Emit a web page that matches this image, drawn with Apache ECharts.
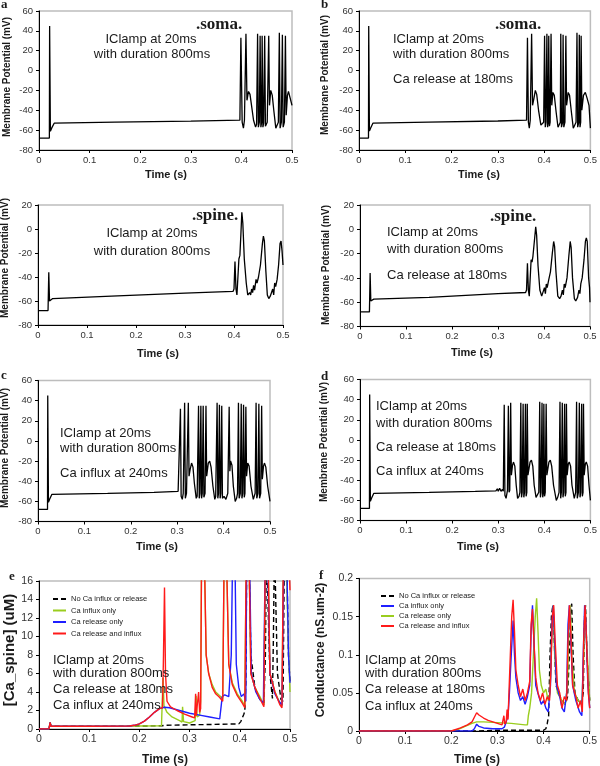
<!DOCTYPE html>
<html><head><meta charset="utf-8">
<script src="https://cdn.jsdelivr.net/npm/echarts@6/dist/echarts.min.js"></script>
<style>html,body{margin:0;padding:0;background:#fff}#c{width:600px;height:766px}</style>
</head><body><div id="c"></div>
<script>
// ---------- DATA (time in s, value) ----------
const somaA = [[0,-68],[0.0205,-68],[0.021,45],[0.0225,-61],[0.025,-58],[0.027,-56],[0.03,-53],[0.15,-52],[0.3,-51],[0.397,-50],
[0.399,33],[0.4015,-52],[0.404,-58],[0.406,-50],[0.409,37],[0.411,-30],[0.414,-21],[0.417,-24],[0.42,-35],[0.424,-50],[0.428,-57],[0.43,-54],
[0.432,37],[0.4335,-57],[0.4355,-52],[0.437,35],[0.4385,-57],[0.44,-52],[0.441,35],[0.4425,-57],[0.444,-53],[0.446,35],[0.4475,-56],[0.451,-52],[0.454,35],[0.4555,-35],[0.458,-20],[0.461,-25],[0.464,-40],[0.468,-58],[0.471,-57],[0.473,-52],
[0.475,38],[0.4765,-58],[0.479,-52],[0.481,36],[0.4825,-57],[0.485,-52],[0.487,35],[0.4885,-45],[0.491,-25],[0.493,-21],[0.496,-27],[0.5,-35]];

const somaB = [[0,-68],[0.0205,-68],[0.021,45],[0.0225,-61],[0.025,-58],[0.027,-56],[0.03,-53],[0.15,-52],[0.3,-50.8],[0.362,-50],
[0.364,33],[0.366,-52],[0.368,-58],[0.37,-50],[0.373,37],[0.375,-35],[0.378,-28],[0.381,-20],[0.384,-24],[0.388,-40],[0.393,-55],[0.396,-57],[0.399,-52],
[0.401,35],[0.4025,-57],[0.404,-52],[0.406,37],[0.4075,-57],[0.409,-52],[0.41,35],[0.4115,-56],[0.413,-52],[0.415,37],[0.4165,-35],[0.419,-22],[0.422,-25],[0.426,-42],[0.43,-57],[0.433,-56],[0.435,-52],
[0.436,37],[0.4375,-57],[0.44,-52],[0.441,36],[0.4425,-57],[0.445,-52],[0.447,35],[0.4485,-35],[0.452,-22],[0.455,-25],[0.459,-42],[0.463,-58],[0.467,-57],[0.469,-52],
[0.471,38],[0.4725,-57],[0.475,-52],[0.476,36],[0.4775,-57],[0.479,-52],[0.48,35],[0.4815,-40],[0.485,-25],[0.489,-22],[0.493,-28],[0.497,-35],[0.5,-58]];

const spineA = [[0,-68],[0.0205,-68],[0.022,-36],[0.0235,-60],[0.025,-59],[0.03,-58],[0.15,-56],[0.3,-53.5],[0.398,-52],[0.4,-50],[0.402,-27],[0.404,-50],[0.406,-55],[0.408,-40],[0.41,-25],[0.412,-22],[0.414,-5],[0.416,14],[0.418,5],[0.421,-25],[0.425,-45],[0.428,-55],[0.432,-53],[0.434,-55],[0.436,-50],[0.438,-53],[0.44,-47],[0.442,-51],[0.445,-42],[0.447,-45],[0.45,-40],[0.454,-30],[0.458,-12],[0.46,-6],[0.462,-10],[0.465,-35],[0.468,-55],[0.471,-58],[0.474,-56],[0.477,-55],[0.479,-50],[0.481,-55],[0.483,-45],[0.485,-48],[0.488,-42],[0.491,-30],[0.494,-12],[0.496,-10],[0.498,-18],[0.5,-30]];

const spineB = [[0,-68],[0.0205,-68],[0.022,-36],[0.0235,-59],[0.025,-58],[0.03,-57.5],[0.15,-56],[0.3,-53],[0.36,-52],[0.362,-50],[0.364,-28],[0.366,-50],[0.368,-55],[0.37,-40],[0.372,-25],[0.374,-27],[0.376,-22],[0.379,-10],[0.382,2],[0.384,-5],[0.387,-30],[0.391,-50],[0.395,-55],[0.399,-54],[0.401,-48],[0.403,-53],[0.405,-45],[0.407,-48],[0.41,-42],[0.414,-35],[0.418,-20],[0.421,-10],[0.423,-14],[0.426,-35],[0.43,-55],[0.434,-57],[0.437,-55],[0.44,-50],[0.442,-54],[0.444,-45],[0.446,-48],[0.45,-40],[0.454,-22],[0.457,-10],[0.459,-15],[0.462,-40],[0.466,-57],[0.469,-59],[0.473,-56],[0.476,-50],[0.478,-53],[0.48,-45],[0.483,-40],[0.487,-25],[0.49,-10],[0.492,-7],[0.494,-10],[0.497,-40],[0.499,-48],[0.5,-60]];

const somaC = [[0,-68],[0.0205,-68],[0.021,45],[0.0225,-61],[0.025,-58],[0.027,-56],[0.03,-53],[0.15,-52],[0.25,-51],[0.302,-50],
[0.307,32],[0.3085,-55],[0.311,-58],[0.313,-52],[0.316,38],[0.3175,-57],[0.32,-52],[0.324,38],[0.3255,-35],[0.328,-28],[0.331,-22],[0.334,-26],[0.337,-42],[0.341,-57],[0.343,-55],
[0.346,35],[0.3475,-57],[0.349,-52],[0.351,35],[0.3525,-57],[0.354,-52],[0.356,35],[0.3575,-56],[0.36,-52],[0.362,35],[0.3635,-35],[0.367,-22],[0.37,-20],[0.373,-26],[0.377,-45],[0.381,-58],[0.383,-55],
[0.386,38],[0.3875,-57],[0.389,-52],[0.391,36],[0.3925,-57],[0.394,-52],[0.396,35],[0.3975,-57],[0.401,-55],[0.405,-58],[0.409,-52],[0.412,34],[0.4135,-30],[0.415,-20],[0.418,-24],[0.421,-45],[0.425,-60],[0.428,-57],[0.43,-52],
[0.432,38],[0.4335,-57],[0.436,-52],[0.438,37],[0.4395,-57],[0.441,-52],[0.443,36],[0.4445,-56],[0.446,-52],[0.448,34],[0.4495,-35],[0.452,-22],[0.455,-25],[0.459,-45],[0.464,-58],[0.467,-57],[0.468,-52],
[0.47,38],[0.4715,-57],[0.474,-52],[0.476,37],[0.4775,-57],[0.48,-52],[0.482,35],[0.4835,-38],[0.486,-25],[0.488,-22],[0.491,-26],[0.495,-45],[0.5,-60]];

const somaD = [[0,-68],[0.0205,-68],[0.021,45],[0.0225,-61],[0.025,-58],[0.027,-56],[0.03,-53],[0.15,-52],[0.25,-51],[0.295,-50.5],[0.298,-48.5],[0.3,-51],[0.303,-48],[0.306,-51],[0.309,-49],[0.311,-51],
[0.313,35],[0.3145,-55],[0.317,-58],[0.32,-50],[0.322,34],[0.3235,-52],[0.325,-50],[0.327,37],[0.3285,-35],[0.331,-25],[0.333,-22],[0.336,-26],[0.339,-45],[0.342,-58],[0.345,-56],[0.347,-52],
[0.349,37],[0.3505,-57],[0.352,-52],[0.354,36],[0.3555,-57],[0.357,-52],[0.359,36],[0.3605,-56],[0.362,-52],[0.363,36],[0.3645,-35],[0.369,-22],[0.372,-20],[0.375,-26],[0.378,-45],[0.382,-57],[0.385,-56],[0.388,-52],
[0.39,38],[0.3915,-57],[0.393,-52],[0.395,37],[0.3965,-57],[0.398,-52],[0.399,36],[0.4005,-56],[0.402,-52],[0.404,36],[0.4055,-35],[0.41,-22],[0.413,-20],[0.416,-26],[0.42,-45],[0.426,-60],[0.429,-57],[0.432,-52],
[0.434,38],[0.4355,-58],[0.437,-52],[0.439,37],[0.4405,-57],[0.442,-52],[0.444,36],[0.4455,-56],[0.447,-52],[0.448,36],[0.4495,-35],[0.452,-24],[0.454,-22],[0.457,-26],[0.46,-45],[0.465,-58],[0.467,-57],[0.468,-52],
[0.47,38],[0.4715,-58],[0.474,-52],[0.476,37],[0.4775,-57],[0.479,-52],[0.481,36],[0.4825,-56],[0.484,-52],[0.485,36],[0.4865,-35],[0.489,-24],[0.491,-22],[0.494,-26],[0.497,-45],[0.5,-60]];

// panel e: [Ca_spine] (uM)
const caNone = [[0,0],[0.02,0],[0.022,0.7],[0.024,0.3],[0.1,0.3],[0.2,0.32],[0.245,0.35],[0.25,0.4],[0.3,0.45],[0.35,0.5],[0.398,0.55],[0.402,0.8],[0.405,1.2],[0.408,1.6],[0.41,1.9],[0.412,5],[0.414,20],[0.418,20],[0.422,8],[0.43,4.5],[0.44,3.2],[0.448,2.8],[0.451,8],[0.453,20],[0.456,20],[0.46,6],[0.465,3.3],[0.467,10],[0.469,20],[0.471,20],[0.475,6],[0.482,3.2],[0.486,3],[0.489,20],[0.493,20],[0.497,8],[0.5,5]];
const caInflux = [[0,0],[0.02,0],[0.022,0.7],[0.024,0.3],[0.1,0.3],[0.2,0.32],[0.244,0.35],[0.246,0.4],[0.247,5.5],[0.249,2.5],[0.255,1.8],[0.265,1.3],[0.28,0.9],[0.285,0.75],[0.286,2.4],[0.288,0.8],[0.3,0.65],[0.311,0.9],[0.313,3.6],[0.315,1.3],[0.32,1.5],[0.322,3],[0.324,20],[0.329,20],[0.333,8],[0.338,6],[0.345,4.8],[0.352,4],[0.36,3.6],[0.366,3.3],[0.369,20],[0.373,20],[0.378,7],[0.385,5],[0.395,3.8],[0.405,3],[0.41,2.5],[0.413,20],[0.418,20],[0.422,6],[0.43,4.5],[0.44,3.5],[0.448,2.6],[0.451,20],[0.456,20],[0.46,6],[0.47,4],[0.48,2.8],[0.484,2.5],[0.487,20],[0.492,20],[0.496,10],[0.5,4]];
const caRelease = [[0,0],[0.02,0],[0.022,0.7],[0.024,0.3],[0.1,0.3],[0.18,0.32],[0.19,0.4],[0.2,0.55],[0.21,0.85],[0.22,1.3],[0.23,1.8],[0.24,2.2],[0.25,2.35],[0.26,2.3],[0.28,2.0],[0.3,1.7],[0.32,1.5],[0.34,1.3],[0.36,1.1],[0.363,1.1],[0.365,3.5],[0.37,3.7],[0.378,3.5],[0.383,8],[0.386,20],[0.39,20],[0.393,7],[0.398,4.5],[0.403,3.5],[0.408,3.8],[0.412,3],[0.414,20],[0.419,20],[0.423,6],[0.432,4],[0.44,3.2],[0.447,2.8],[0.451,20],[0.455,20],[0.46,6],[0.47,3.8],[0.478,3],[0.484,2.6],[0.488,20],[0.493,20],[0.497,8],[0.5,5]];
const caBoth = [[0,0],[0.02,0.02],[0.022,0.7],[0.024,0.3],[0.1,0.3],[0.18,0.32],[0.19,0.4],[0.2,0.55],[0.21,0.85],[0.22,1.3],[0.23,1.8],[0.24,2.2],[0.246,2.3],[0.248,8],[0.25,15.3],[0.252,6],[0.255,3],[0.262,2.4],[0.275,2],[0.29,1.6],[0.305,1.3],[0.31,1.2],[0.312,3.8],[0.313,1.4],[0.316,1.5],[0.318,4],[0.32,1.8],[0.322,2.2],[0.324,20],[0.329,20],[0.333,8],[0.338,6],[0.345,4.5],[0.352,3.8],[0.36,3.4],[0.366,3],[0.369,20],[0.373,20],[0.378,7],[0.385,4.8],[0.395,3.6],[0.405,2.8],[0.41,2.3],[0.413,20],[0.418,20],[0.422,6],[0.43,4.5],[0.44,3.3],[0.448,2.4],[0.451,20],[0.456,20],[0.46,6],[0.47,4],[0.48,2.6],[0.484,2.3],[0.487,20],[0.497,20],[0.5,15]];

// panel f: Conductance (nS.um-2)
const gNone = [[0,0],[0.25,0],[0.3,0.001],[0.4,0.001],[0.405,0.003],[0.408,0.01],[0.411,0.02],[0.414,0.1],[0.417,0.15],[0.42,0.165],[0.423,0.12],[0.427,0.06],[0.432,0.05],[0.44,0.04],[0.447,0.035],[0.452,0.045],[0.456,0.1],[0.459,0.16],[0.461,0.167],[0.464,0.1],[0.468,0.05],[0.475,0.04],[0.482,0.035],[0.486,0.05],[0.489,0.15],[0.491,0.165],[0.494,0.1],[0.5,0.04]];
const gInflux = [[0,0],[0.245,0],[0.25,0.003],[0.255,0.009],[0.26,0.006],[0.27,0.004],[0.29,0.003],[0.31,0.003],[0.315,0.005],[0.318,0.01],[0.32,0.008],[0.323,0.02],[0.326,0.05],[0.33,0.1],[0.334,0.145],[0.337,0.1],[0.34,0.07],[0.345,0.05],[0.35,0.04],[0.355,0.045],[0.36,0.035],[0.365,0.045],[0.37,0.06],[0.373,0.13],[0.376,0.165],[0.379,0.12],[0.383,0.06],[0.39,0.045],[0.395,0.035],[0.4,0.04],[0.405,0.03],[0.41,0.025],[0.415,0.06],[0.418,0.14],[0.421,0.165],[0.424,0.12],[0.428,0.06],[0.435,0.045],[0.44,0.03],[0.445,0.025],[0.45,0.05],[0.453,0.14],[0.456,0.165],[0.459,0.12],[0.463,0.06],[0.47,0.04],[0.478,0.025],[0.483,0.02],[0.486,0.1],[0.489,0.165],[0.492,0.14],[0.496,0.06],[0.5,0.03]];
const gRelease = [[0,0],[0.2,0],[0.215,0.002],[0.23,0.006],[0.245,0.01],[0.255,0.012],[0.27,0.012],[0.3,0.011],[0.33,0.01],[0.36,0.008],[0.365,0.008],[0.367,0.02],[0.37,0.03],[0.374,0.05],[0.378,0.1],[0.382,0.15],[0.385,0.174],[0.388,0.13],[0.391,0.08],[0.395,0.06],[0.4,0.05],[0.405,0.055],[0.41,0.04],[0.414,0.05],[0.418,0.13],[0.421,0.165],[0.424,0.1],[0.43,0.05],[0.44,0.04],[0.447,0.035],[0.452,0.06],[0.455,0.14],[0.458,0.165],[0.461,0.1],[0.467,0.05],[0.475,0.04],[0.483,0.035],[0.487,0.1],[0.49,0.165],[0.493,0.12],[0.5,0.04]];
const gBoth = [[0,0],[0.2,0],[0.21,0.002],[0.22,0.004],[0.235,0.008],[0.245,0.012],[0.25,0.018],[0.255,0.024],[0.26,0.021],[0.27,0.017],[0.28,0.014],[0.29,0.012],[0.3,0.01],[0.31,0.008],[0.312,0.007],[0.314,0.02],[0.316,0.009],[0.319,0.012],[0.321,0.028],[0.323,0.015],[0.325,0.05],[0.328,0.1],[0.331,0.15],[0.334,0.172],[0.337,0.13],[0.34,0.08],[0.345,0.06],[0.35,0.045],[0.355,0.055],[0.36,0.04],[0.365,0.05],[0.37,0.065],[0.373,0.14],[0.376,0.16],[0.379,0.12],[0.383,0.07],[0.388,0.05],[0.393,0.04],[0.398,0.05],[0.403,0.035],[0.408,0.045],[0.413,0.04],[0.416,0.08],[0.419,0.15],[0.422,0.165],[0.425,0.12],[0.43,0.06],[0.435,0.05],[0.44,0.03],[0.445,0.045],[0.45,0.04],[0.453,0.12],[0.456,0.165],[0.459,0.13],[0.463,0.06],[0.47,0.045],[0.475,0.03],[0.48,0.04],[0.484,0.025],[0.487,0.12],[0.49,0.165],[0.493,0.12],[0.497,0.05],[0.5,0.03]];

const legendNames = ['No Ca influx or release','Ca influx only','Ca release only','Ca release and influx'];

// ---------- CHART ----------
const FONT = '"Liberation Sans", Arial, sans-serif';
const grids = [], xAxes = [], yAxes = [], series = [];
function addPanel(box, ymin, ymax, yint, fs){
  const i = grids.length;
  grids.push({left:box[0], top:box[1], width:box[2], height:box[3], show:true, borderColor:'#bdbdbd', borderWidth:1.5, backgroundColor:'rgba(0,0,0,0)'});
  xAxes.push({gridIndex:i, type:'value', min:0, max:0.5, interval:0.1,
    axisLine:{show:true, onZero:false, lineStyle:{color:'#000', width:1}},
    axisTick:{show:true, length:3, lineStyle:{color:'#000'}},
    axisLabel:{fontSize:fs, color:'#333', margin:5, fontFamily:FONT},
    splitLine:{show:false}});
  yAxes.push({gridIndex:i, type:'value', min:ymin, max:ymax, interval:yint,
    axisLine:{show:true, onZero:false, lineStyle:{color:'#000', width:1}},
    axisTick:{show:true, length:3, lineStyle:{color:'#000'}},
    axisLabel:{fontSize:fs, color:'#333', margin:6, fontFamily:FONT},
    splitLine:{show:false}});
  return i;
}
function addLine(i, data, color, width, name, dashed){
  series.push({type:'line', name:name, xAxisIndex:i, yAxisIndex:i, data:data, symbol:'none', showSymbol:false,
    animation:false, silent:true, clip:true,
    lineStyle:{color:color, width:width, type: dashed ? [5,3] : 'solid'}, itemStyle:{color:color}});
}
const pA = addPanel([39,11,253,139], -80, 60, 20, 9.5);
const pB = addPanel([359,11,233,139], -80, 60, 20, 9.5);
const pSA = addPanel([38,205,245,120], -80, 20, 20, 9.5);
const pSB = addPanel([360,205,230,121.5], -80, 20, 20, 9.5);
const pC = addPanel([38,380.5,232,141], -80, 60, 20, 9.5);
const pD = addPanel([360,379.5,231,141], -80, 60, 20, 9.5);
const pE = addPanel([39,581,251,148], 0, 16, 2, 10.5);
const pF = addPanel([359,578.5,234,152.5], 0, 0.2, 0.05, 10.5);

addLine(pA, somaA, '#000', 1.3);
addLine(pB, somaB, '#000', 1.3);
addLine(pSA, spineA, '#000', 1.3);
addLine(pSB, spineB, '#000', 1.3);
addLine(pC, somaC, '#000', 1.3);
addLine(pD, somaD, '#000', 1.3);

const GREEN = '#9acd1e', BLUE = '#1f1fff', RED = '#ff1a1a';
addLine(pE, caNone, '#000', 1.4, legendNames[0], true);
addLine(pE, caInflux, GREEN, 1.4, legendNames[1]);
addLine(pE, caRelease, BLUE, 1.4, legendNames[2]);
addLine(pE, caBoth, RED, 1.4, legendNames[3]);

addLine(pF, gNone, '#000', 1.4, legendNames[0]+' (f)', true);
addLine(pF, gRelease, GREEN, 1.4, legendNames[2]+' (f)');
addLine(pF, gInflux, BLUE, 1.4, legendNames[1]+' (f)');
addLine(pF, gBoth, RED, 1.4, legendNames[3]+' (f)');

const graphics = [];
function txt(x, y, s, font, align, opts){
  const o = Object.assign({type:'text', x:x, y:y, silent:true, z:100,
    style:{text:s, font:font, fill:'#1a1a1a', align:align||'left', verticalAlign:'middle', textAlign:align||'left', textVerticalAlign:'middle'}}, opts||{});
  graphics.push(o);
}
const LET = 'bold 13px "Liberation Serif", serif';
txt(1, 5, 'a', LET); txt(321, 5, 'b', LET); txt(1, 376, 'c', LET); txt(321, 377, 'd', LET); txt(9, 577, 'e', LET); txt(319, 576, 'f', LET);
const LAB = 'bold 17px "Liberation Serif", serif';
txt(196, 25, '.soma.', LAB); txt(495, 25, '.soma.', LAB); txt(192, 216, '.spine.', LAB); txt(490, 217, '.spine.', LAB);
const ANN = '13px ' + FONT;
txt(151, 39, 'IClamp at 20ms', ANN, 'center'); txt(152, 54, 'with duration 800ms', ANN, 'center');
txt(393, 39, 'IClamp at 20ms', ANN); txt(393, 54, 'with duration 800ms', ANN); txt(393, 79, 'Ca release at 180ms', ANN);
txt(152, 233, 'IClamp at 20ms', ANN, 'center'); txt(152, 251, 'with duration 800ms', ANN, 'center');
txt(387, 232, 'IClamp at 20ms', ANN); txt(387, 249, 'with duration 800ms', ANN); txt(387, 275, 'Ca release at 180ms', ANN);
txt(60, 433, 'IClamp at 20ms', ANN); txt(60, 448, 'with duration 800ms', ANN); txt(60, 473, 'Ca influx at 240ms', ANN);
txt(376, 406, 'IClamp at 20ms', ANN); txt(376, 423, 'with duration 800ms', ANN); txt(376, 447, 'Ca release at 180ms', ANN); txt(376, 471, 'Ca influx at 240ms', ANN);
const ANN2 = '13px ' + FONT;
txt(53, 660, 'IClamp at 20ms', ANN2); txt(53, 673, 'with duration 800ms', ANN2); txt(53, 689, 'Ca release at 180ms', ANN2); txt(53, 705, 'Ca influx at 240ms', ANN2);
txt(365, 660, 'IClamp at 20ms', ANN2); txt(365, 673, 'with duration 800ms', ANN2); txt(365, 689, 'Ca release at 180ms', ANN2); txt(365, 706, 'Ca influx at 240ms', ANN2);
const XT = 'bold 11px ' + FONT;
txt(166, 175, 'Time (s)', XT, 'center'); txt(479, 175, 'Time (s)', XT, 'center');
txt(158, 354, 'Time (s)', XT, 'center'); txt(472, 353, 'Time (s)', XT, 'center');
txt(157, 547, 'Time (s)', XT, 'center'); txt(478, 547, 'Time (s)', XT, 'center');
txt(165, 760, 'Time (s)', 'bold 12px ' + FONT, 'center'); txt(477, 760, 'Time (s)', 'bold 12px ' + FONT, 'center');
const YT = 'bold 10px ' + FONT;
const R = {rotation: Math.PI/2};
txt(7, 77, 'Membrane Potential (mV)', YT, 'center', R);
txt(325, 75, 'Membrane Potential (mV)', YT, 'center', R);
txt(5, 258, 'Membrane Potential (mV)', YT, 'center', R);
txt(326, 265, 'Membrane Potential (mV)', YT, 'center', R);
txt(5, 448, 'Membrane Potential (mV)', YT, 'center', R);
txt(324, 442, 'Membrane Potential (mV)', YT, 'center', R);
txt(10, 650, '[Ca_spine] (uM)', 'bold 15px ' + FONT, 'center', R);
txt(321, 650, 'Conductance (nS.um-2)', 'bold 12px ' + FONT, 'center', R);

const chart = echarts.init(document.getElementById('c'), null, {renderer:'canvas'});
chart.setOption({
  animation:false,
  backgroundColor:'#fff',
  textStyle:{fontFamily:FONT},
  grid:grids, xAxis:xAxes, yAxis:yAxes, series:series,
  legend:[
    {left:47, top:590, orient:'vertical', itemWidth:13, itemHeight:8, itemGap:3.5, selectedMode:false,
     itemStyle:{opacity:0, borderWidth:0},
     data:legendNames, textStyle:{fontSize:7.5, color:'#222', fontFamily:FONT}},
    {left:375, top:587, orient:'vertical', itemWidth:13, itemHeight:8, itemGap:2, selectedMode:false,
     itemStyle:{opacity:0, borderWidth:0},
     data:[legendNames[0]+' (f)', legendNames[1]+' (f)', legendNames[2]+' (f)', legendNames[3]+' (f)'],
     formatter:function(n){return n.replace(' (f)','');},
     textStyle:{fontSize:7.5, color:'#222', fontFamily:FONT}}
  ],
  graphic:graphics
});
</script></body></html>
